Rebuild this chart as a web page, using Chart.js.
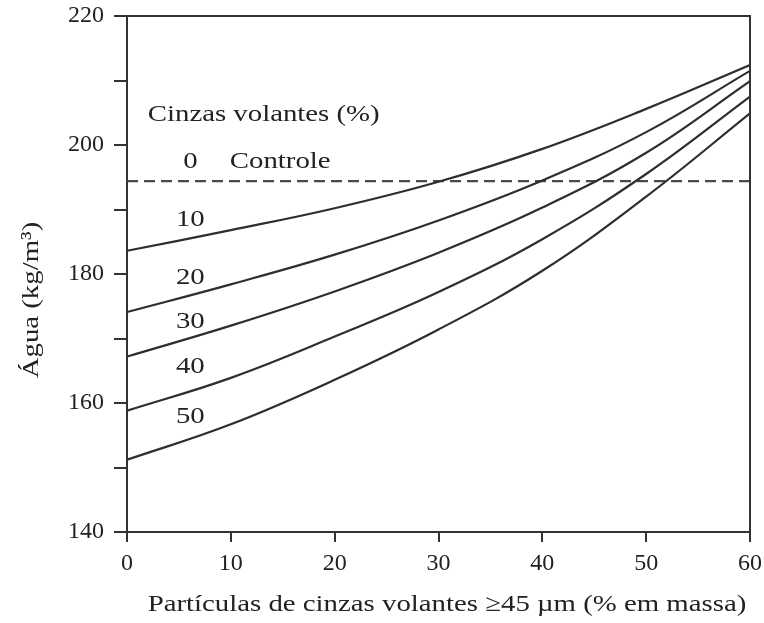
<!DOCTYPE html>
<html>
<head>
<meta charset="utf-8">
<script src="https://cdn.jsdelivr.net/npm/chart.js@4.4.1/dist/chart.umd.min.js"></script>
<style>
  html, body { margin: 0; padding: 0; background: #fff; }
  #wrap { width: 764px; height: 623px; }
</style>
</head>
<body>
<div id="wrap"><canvas id="chart" width="764" height="623"></canvas></div>
<script>
// fineness (% retained on 45 µm sieve)
const xValues = [0, 10, 20, 30, 40, 50, 60];

// water demand (kg/m³) per fly ash content
const ash10 = [183.6, 186.8, 190.2, 194.3, 199.4, 205.6, 212.4];
const ash20 = [174.1, 178.4, 183.0, 188.3, 194.5, 202.0, 211.5];
const ash30 = [167.2, 172.0, 177.3, 183.3, 190.3, 198.8, 209.9];
const ash40 = [158.8, 163.9, 170.3, 177.2, 185.4, 195.5, 207.5];
const ash50 = [151.2, 156.7, 163.6, 171.4, 180.5, 192.0, 204.9];
const controlWater = 194.4;

const seriesNames = ["10", "20", "30", "40", "50"];
const seriesValues = [ash10, ash20, ash30, ash40, ash50];

// where each curve label sits (data units)
const labelX = 6.1;
const labelY = [188.4, 179.4, 172.6, 165.6, 157.9];

const xTitle = "Partículas de cinzas volantes ≥45 µm (% em massa)";
const yTitle = "Água (kg/m³)";

const ink = "#222";
const serif = "'Liberation Serif', 'DejaVu Serif', serif";
const stretch = 1.2;

const datasets = seriesValues.map((vals, i) => ({
  label: seriesNames[i],
  data: vals.map((v, j) => ({ x: xValues[j], y: v })),
  borderColor: "#2e2e2e",
  borderWidth: 2.2,
  pointRadius: 0,
  tension: 0.4,
  fill: false,
}));

datasets.push({
  label: "Controle",
  data: [{ x: 0, y: controlWater }, { x: 60, y: controlWater }],
  borderColor: "#4a4a4a",
  borderWidth: 2.2,
  borderDash: [11, 6],
  pointRadius: 0,
  fill: false,
});

function drawStretched(ctx, text, x, y, align, sx) {
  ctx.save();
  ctx.translate(x, y);
  ctx.scale(sx, 1);
  ctx.textAlign = align;
  ctx.fillText(text, 0, 0);
  ctx.restore();
}

const extras = {
  id: "extras",
  afterDatasetsDraw(chart) {
    const { ctx, chartArea: a, scales } = chart;
    const xs = scales.x, ys = scales.y;

    // top and right frame
    ctx.save();
    ctx.strokeStyle = "#333";
    ctx.lineWidth = 2;
    ctx.beginPath();
    ctx.moveTo(a.left, a.top);
    ctx.lineTo(a.right, a.top);
    ctx.lineTo(a.right, a.bottom);
    ctx.stroke();

    ctx.fillStyle = ink;
    ctx.font = "24px " + serif;
    ctx.textBaseline = "middle";

    drawStretched(ctx, "Cinzas volantes (%)", xs.getPixelForValue(2.0), ys.getPixelForValue(204.7), "left", stretch);
    drawStretched(ctx, "0", xs.getPixelForValue(labelX), ys.getPixelForValue(197.4), "center", stretch);
    drawStretched(ctx, "Controle", xs.getPixelForValue(9.9), ys.getPixelForValue(197.4), "left", stretch);
    seriesNames.forEach((name, i) => {
      drawStretched(ctx, name, xs.getPixelForValue(labelX), ys.getPixelForValue(labelY[i]), "center", stretch);
    });

    // axis titles
    drawStretched(ctx, xTitle, 447, 605, "center", stretch);
    ctx.save();
    ctx.translate(32, 300);
    ctx.rotate(-Math.PI / 2);
    drawStretched(ctx, yTitle, 0, 0, "center", stretch);
    ctx.restore();
    ctx.restore();
  },
};

new Chart(document.getElementById("chart"), {
  type: "line",
  data: { datasets },
  options: {
    responsive: false,
    animation: false,
    layout: { padding: { top: 16, right: 14, left: 0, bottom: 0 } },
    plugins: { legend: { display: false }, tooltip: { enabled: false } },
    scales: {
      x: {
        type: "linear",
        min: 0,
        max: 60,
        ticks: { stepSize: 10, color: ink, padding: 7, font: { family: serif, size: 24 } },
        grid: { drawOnChartArea: false, color: "#333", lineWidth: 2, tickLength: 10 },
        border: { color: "#333", width: 2 },
        afterFit(scale) {
          scale.height = 91;
          scale.paddingLeft = 0;
          scale.paddingRight = 0;
        },
      },
      y: {
        min: 140,
        max: 220,
        ticks: {
          stepSize: 10,
          color: ink,
          padding: 10,
          font: { family: serif, size: 24 },
          callback: (v) => (v % 20 === 0 ? v : ""),
        },
        grid: { drawOnChartArea: false, color: "#333", lineWidth: 2, tickLength: 13 },
        border: { color: "#333", width: 2 },
        afterFit(scale) {
          scale.width = 127;
          scale.paddingTop = 0;
          scale.paddingBottom = 0;
        },
      },
    },
  },
  plugins: [extras],
});
</script>
</body>
</html>
